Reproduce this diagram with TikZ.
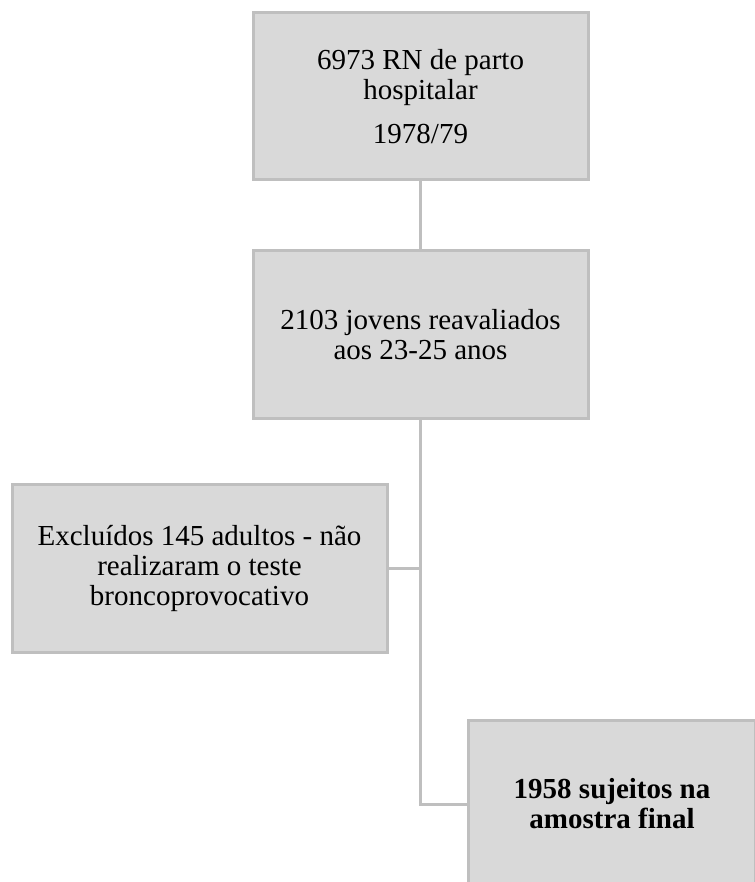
\documentclass[tikz,border=0pt]{standalone}
\usepackage{fontspec}
\setmainfont{Liberation Serif}
\usetikzlibrary{positioning,calc}

\tikzset{
  flowbox/.style={draw=gray!50, fill=gray!30, line width=3pt, align=center,
    inner sep=0pt, font=\fontsize{29}{30}\selectfont},
  link/.style={draw=gray!50, line width=3pt}
}

\begin{document}
\begin{tikzpicture}[x=1pt, y=-1pt, node distance=68pt]
    \useasboundingbox (0,0) rectangle (754,882);
    % Cohort
    \node[flowbox, minimum width=335pt, minimum height=167pt] (birth) at (420.5,96.5) {6973 RN de parto\\hospitalar\\[14pt]1978/79};
    % Follow-up
    \node[flowbox, minimum width=335pt, minimum height=167pt, below=of birth] (followup) {2103 jovens reavaliados\\aos 23-25 anos};
    % Exclusions
    \node[flowbox, minimum width=375pt, minimum height=168pt] (excluded) at (199.5,568) {Exclu\'idos 145 adultos - n\~ao\\realizaram o teste\\broncoprovocativo};
    % Final sample
    \node[flowbox, minimum width=287pt, minimum height=167pt, font=\fontsize{29}{30}\selectfont\bfseries] (final) at (612,804) {1958 sujeitos na\\amostra final};
    \coordinate (bend) at (followup.south |- final.west);

    % Connectors
    \draw[link] (birth) -- (followup);
    \draw[link] (followup) -- (bend) -- (final);
    \draw[link] (excluded) -- (excluded -| followup.south);
\end{tikzpicture}
\end{document}
